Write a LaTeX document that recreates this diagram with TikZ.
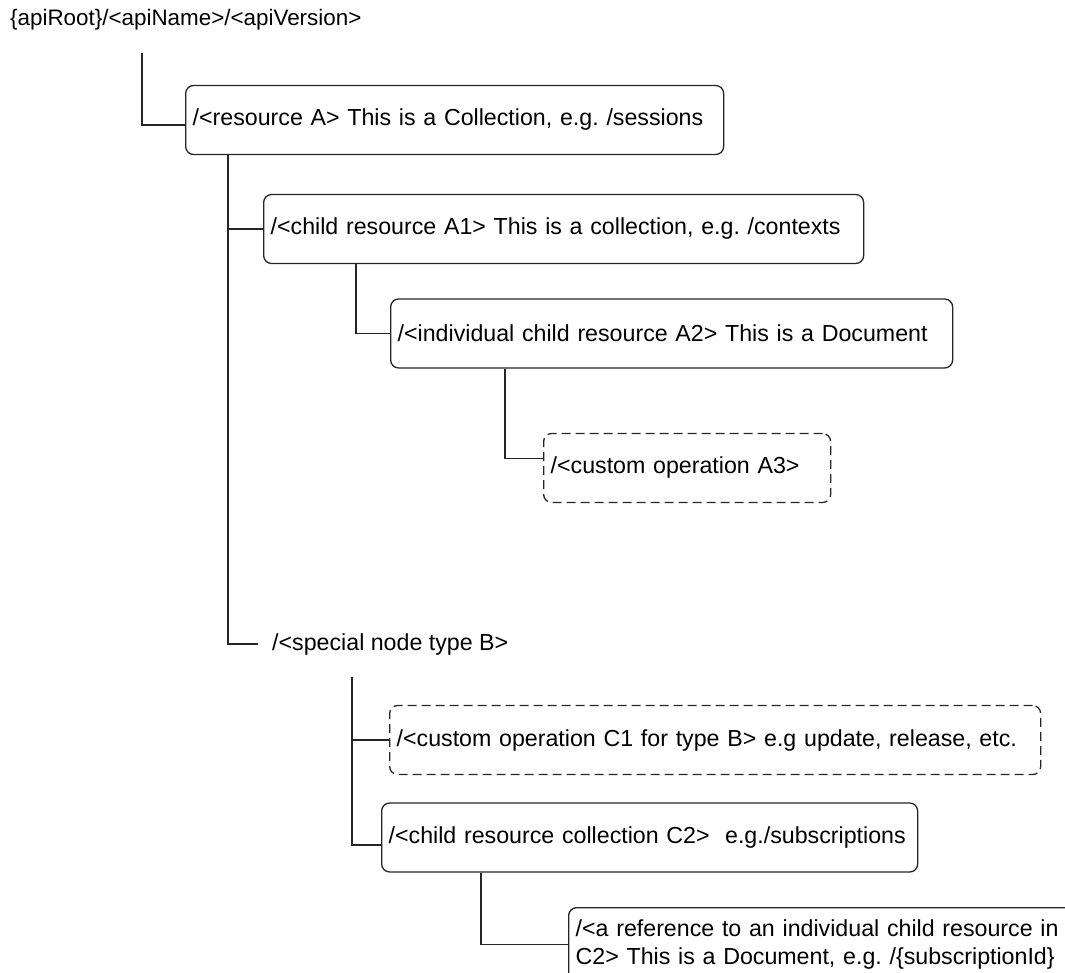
\documentclass[tikz,border=0pt]{standalone}
\usepackage{fontspec}
\setmainfont{Liberation Sans}
\usepackage{tikz}
\frenchspacing

\begin{document}
\begin{tikzpicture}[x=1pt,y=-1pt,
      res/.style={
        draw=black!85,
        rounded corners=8pt,
        line width=1.3pt,
        anchor=west,
        align=left,
        minimum height=69pt,
        inner xsep=7pt
      },
      op/.style={res, dash pattern=on 9pt off 5pt},
      lbl/.style={anchor=west, inner sep=0pt},
      link/.style={draw=black!85, line width=1.3pt},
      font=\fontsize{23.2pt}{28pt}\selectfont]
    \useasboundingbox (0,0) rectangle (1065,973);
    \clip (0,0) rectangle (1065,973);
    \node[lbl,font=\fontsize{22.4pt}{27pt}\selectfont] (root) at (10,20) {\{apiRoot\}/<apiName>/<apiVersion>};
    \node[res,text width=524pt] (A) at (185,120) {/<resource A> This is a Collection, e.g. /sessions};
    \node[res,text width=586pt] (A1) at (263,229) {/<child resource A1> This is a collection, e.g. /contexts};
    \node[res,text width=548pt] (A2) at (390,333.5) {/<individual child resource A2> This is a Document};
    \node[op,text width=273pt] (A3) at (543,468) {/<custom operation A3>};
    \node[lbl,inner xsep=14pt] (B) at (258,644) {/<special node type B>};
    \node[op,text width=637pt] (C1) at (389,740) {/<custom operation C1 for type B> e.g update, release, etc.};
    \node[res,text width=522pt] (C2) at (381,837.5) {/<child resource collection C2>\ \ e.g./subscriptions};
    \node[res,anchor=north west,minimum height=0pt,inner ysep=12pt,text width=520pt] (C3) at (568,907)
      {/<a reference to an individual child resource in\\C2> This is a Document, e.g. /\{subscriptionId\}};
    \coordinate (r0) at (142,53);
    \coordinate (a0) at ([xshift=43pt]A.south west);
    \coordinate (a1) at ([xshift=93pt]A1.south west);
    \coordinate (a2) at ([xshift=115pt]A2.south west);
    \coordinate (b0) at (352,677);
    \coordinate (c2) at ([xshift=100pt]C2.south west);
    \draw[link] (r0) |- ([yshift=-5pt]A.west);
    \draw[link] (a0) |- (A1.west);
    \draw[link] (a0) |- (B.west);
    \draw[link] (a1) |- (A2.west);
    \draw[link] (a2) |- ([yshift=9.5pt]A3.west);
    \draw[link] (b0) |- (C1.west);
    \draw[link] (b0) |- ([yshift=-7.5pt]C2.west);
    \draw[link] (c2) |- (C3.west);
  \end{tikzpicture}
\end{document}
